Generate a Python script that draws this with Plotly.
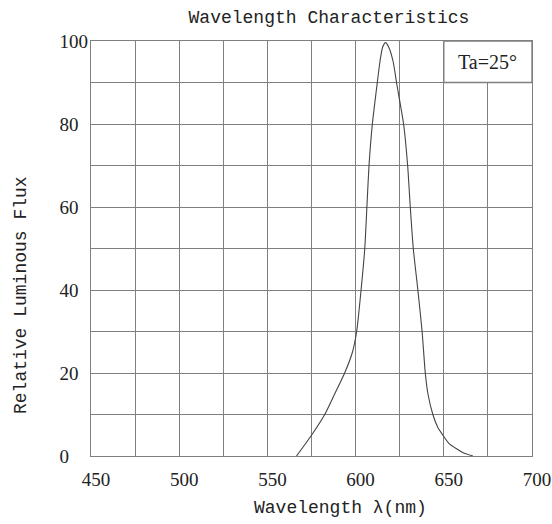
import plotly.graph_objects as go

# Wavelength (nm) and relative luminous flux (%)
wavelength = [566.5, 575, 582.5, 588.2, 593.8, 598.2, 600.6, 603.1, 605.2, 606.4,
              607.6, 609.5, 612.3, 613.8, 615.3, 617.0, 618.8, 621.3, 623.2, 627.2,
              629.5, 631.0, 632.7, 635.3, 637.7, 639.5, 641.0, 643.8, 646.5, 649.5,
              653.0, 657.0, 661.0, 666.5]
flux = [0, 5, 10, 15, 20, 25, 30, 40, 50, 60,
        70, 80, 90, 95, 98.5, 99.6, 98.5, 95, 90, 80,
        70, 60, 50, 40, 30, 20, 15, 10, 7, 5,
        3, 1.8, 0.8, 0]

x_ticks = [450, 500, 550, 600, 650, 700]
x_ticktext = ["450", "500", "550", "600", "650", "700"]
y_ticks = [0, 20, 40, 60, 80, 100]
y_ticktext = ["0", "20", "40", "60", "80", "100"]

title_text = "Wavelength Characteristics"
x_title = "Wavelength λ(nm)"
y_title = "Relative Luminous Flux"
note_text = "Ta=25°"

GRID = "#7f7f7f"
NBSP = "\u00a0"

# left-align y tick labels (digit = 2 nbsp in Liberation Serif)
maxlen = max(len(t) for t in y_ticktext)
y_ticktext_padded = [t + NBSP * (2 * (maxlen - len(t))) for t in y_ticktext]

fig = go.Figure()
fig.add_trace(go.Scatter(
    x=wavelength, y=flux, mode="lines",
    line=dict(color="#444444", width=1.1, shape="spline", smoothing=0.6),
    showlegend=False, hoverinfo="skip"))

axis_common = dict(
    showline=True, linecolor=GRID, linewidth=1.4, mirror=True,
    showgrid=True, gridcolor=GRID, gridwidth=1.4,
    zeroline=False, ticks="", automargin=False,
    tickfont=dict(family="Liberation Serif", size=19, color="#222222"),
)

fig.update_xaxes(
    range=[450, 700], tickmode="array", tickvals=x_ticks, ticktext=x_ticktext,
    minor=dict(dtick=25, showgrid=True, gridcolor=GRID, gridwidth=1.4, ticks=""),
    ticklabelstandoff=6, ticklabelshift=5,
    **axis_common)
fig.update_yaxes(
    range=[0, 100], tickmode="array", tickvals=y_ticks, ticktext=y_ticktext_padded,
    minor=dict(dtick=10, showgrid=True, gridcolor=GRID, gridwidth=1.4, ticks=""),
    ticklabelstandoff=-2,
    **axis_common)

# White note box covering the top-right cell
fig.add_shape(type="rect", xref="x", yref="y", x0=650, x1=700, y0=90, y1=100,
              fillcolor="white", line=dict(color=GRID, width=1.4), layer="above")
fig.add_annotation(x=675, y=95, xref="x", yref="y", text=note_text, showarrow=False,
                   font=dict(family="Liberation Serif", size=20, color="#222222"),
                   xanchor="center", yanchor="middle")

# Axis titles
fig.add_annotation(x=0.5666, y=-0.1253, xref="paper", yref="paper", text=x_title,
                   showarrow=False, xanchor="center", yanchor="middle",
                   font=dict(family="Liberation Mono", size=18, color="#222222"))
fig.add_annotation(x=-0.16, y=0.389, xref="paper", yref="paper", text=y_title,
                   showarrow=False, textangle=-90, xanchor="center", yanchor="middle",
                   font=dict(family="Liberation Mono", size=18, color="#222222"))

fig.update_layout(
    width=552, height=524,
    margin=dict(l=91, r=20, t=41, b=68),
    paper_bgcolor="white", plot_bgcolor="white",
    title=dict(text=title_text, x=329 / 552, y=1 - 17 / 524,
               xanchor="center", yanchor="middle", xref="container", yref="container",
               font=dict(family="Liberation Mono", size=18, color="#222222")),
)

fig.write_html("out.html",
               config={"displayModeBar": False},
               post_script="document.body.style.margin='0';document.body.style.overflow='hidden';")
